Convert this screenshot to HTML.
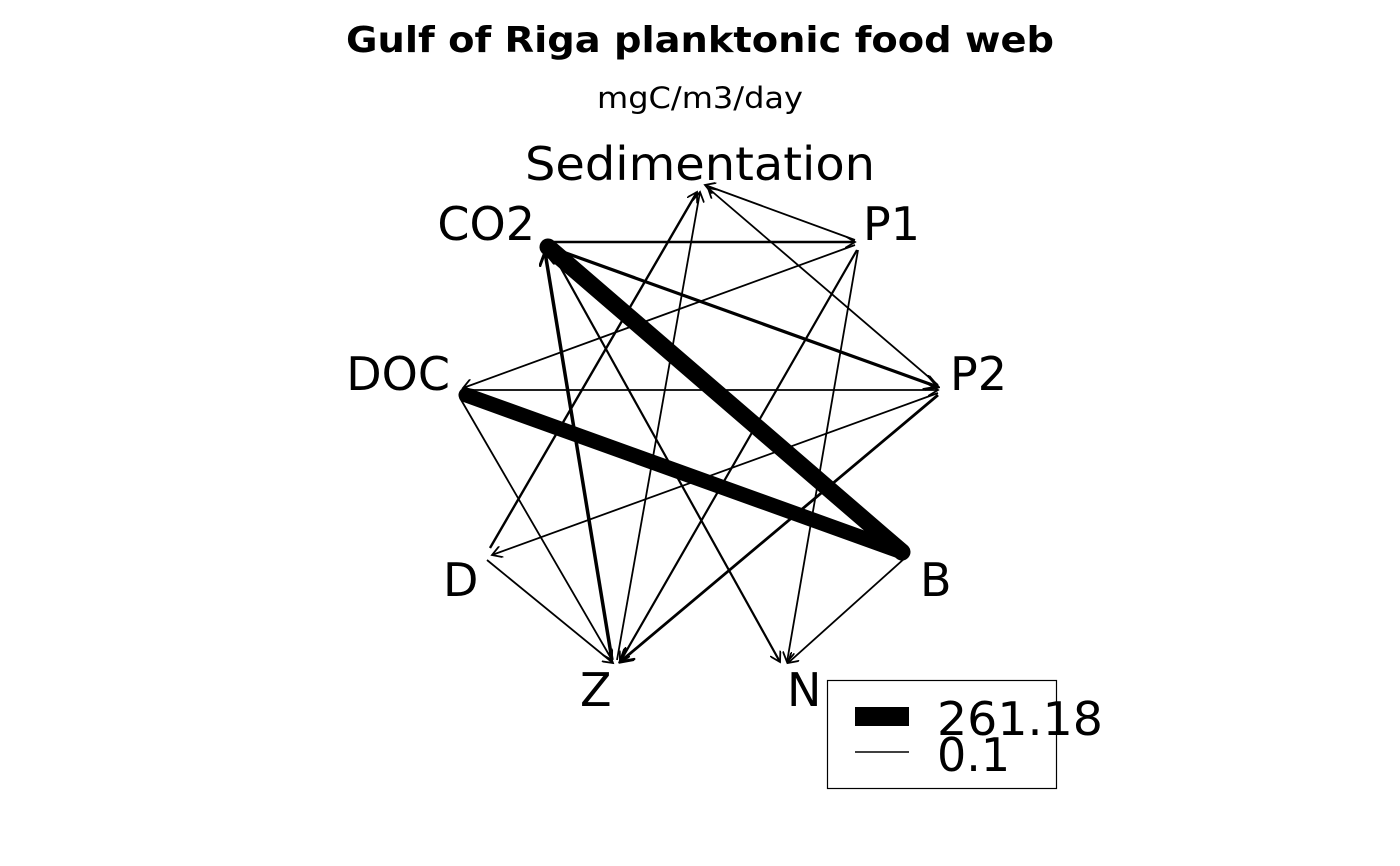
<!DOCTYPE html>
<html><head><meta charset="utf-8"><style>body{margin:0;background:#fff}svg{display:block}</style></head>
<body>
<svg width="1400" height="866" viewBox="0 0 1400 866" xmlns="http://www.w3.org/2000/svg" font-family="DejaVu Sans, Liberation Sans, sans-serif">
<defs>
<marker id="a" markerWidth="12" markerHeight="12" refX="10" refY="6" orient="auto" markerUnits="userSpaceOnUse" viewBox="0 0 12 12"><path d="M0,0 L10,6 L0,12" fill="none" stroke="#000" stroke-width="1.8"/></marker>
<marker id="a2" markerWidth="16" markerHeight="16" refX="14" refY="8" orient="auto" markerUnits="userSpaceOnUse" viewBox="0 0 16 16"><path d="M0,0 L14,8 L0,16" fill="none" stroke="#000" stroke-width="3"/></marker>
</defs>
<text x="700" y="52" text-anchor="middle" font-weight="bold" font-size="36" textLength="708" lengthAdjust="spacingAndGlyphs">Gulf of Riga planktonic food web</text>
<text x="700" y="108" text-anchor="middle" font-size="29" textLength="206" lengthAdjust="spacingAndGlyphs">mgC/m3/day</text>
<g font-size="46">
<text x="700" y="180" text-anchor="middle" textLength="350" lengthAdjust="spacingAndGlyphs">Sedimentation</text>
<text x="535" y="240" text-anchor="end">CO2</text>
<text x="863" y="240">P1</text>
<text x="450" y="390" text-anchor="end">DOC</text>
<text x="950" y="390">P2</text>
<text x="443" y="596">D</text>
<text x="920" y="596">B</text>
<text x="580" y="706">Z</text>
<text x="787" y="706">N</text>
</g>
<g stroke="#000" fill="none" stroke-width="1.8" marker-end="url(#a)">
<line x1="855" y1="240" x2="705" y2="185"/>
<line x1="938" y1="385" x2="708" y2="188"/>
<line x1="490" y1="548" x2="697" y2="192" stroke-width="2.4"/>
<line x1="617" y1="660" x2="700" y2="192"/>
<line x1="552" y1="242" x2="855" y2="242" stroke-width="2.4"/>
<line x1="855" y1="245" x2="463" y2="388"/>
<line x1="463" y1="390" x2="938" y2="390"/>
<line x1="552" y1="252" x2="780" y2="662" stroke-width="2.2"/>
<line x1="857" y1="250" x2="620" y2="662" stroke-width="2.2"/>
<line x1="858" y1="250" x2="787" y2="662"/>
<line x1="938" y1="393" x2="492" y2="555"/>
<line x1="905" y1="558" x2="788" y2="663"/>
<line x1="487" y1="560" x2="613" y2="663"/>
<line x1="460" y1="398" x2="612" y2="660"/>
</g>
<line x1="938" y1="395" x2="620" y2="662" stroke="#000" stroke-width="2.8" marker-end="url(#a2)"/>
<line x1="552" y1="248" x2="938" y2="387" stroke="#000" stroke-width="3.2" marker-end="url(#a2)"/>
<line x1="612" y1="660" x2="545" y2="252" stroke="#000" stroke-width="3.5" marker-end="url(#a2)"/>
<line x1="902" y1="552" x2="548" y2="247" stroke="#000" stroke-width="17" stroke-linecap="round"/>
<line x1="902" y1="552" x2="466" y2="395" stroke="#000" stroke-width="15" stroke-linecap="round"/>
<rect x="827.5" y="680.5" width="229" height="108" fill="none" stroke="#000" stroke-width="1.2"/>
<rect x="855" y="707" width="54" height="19" fill="#000"/>
<line x1="855" y1="752" x2="909" y2="752" stroke="#000" stroke-width="1.5"/>
<text x="937" y="735" font-size="46" textLength="166" lengthAdjust="spacingAndGlyphs">261.18</text>
<text x="937" y="771" font-size="46">0.1</text>
</svg>
</body></html>
